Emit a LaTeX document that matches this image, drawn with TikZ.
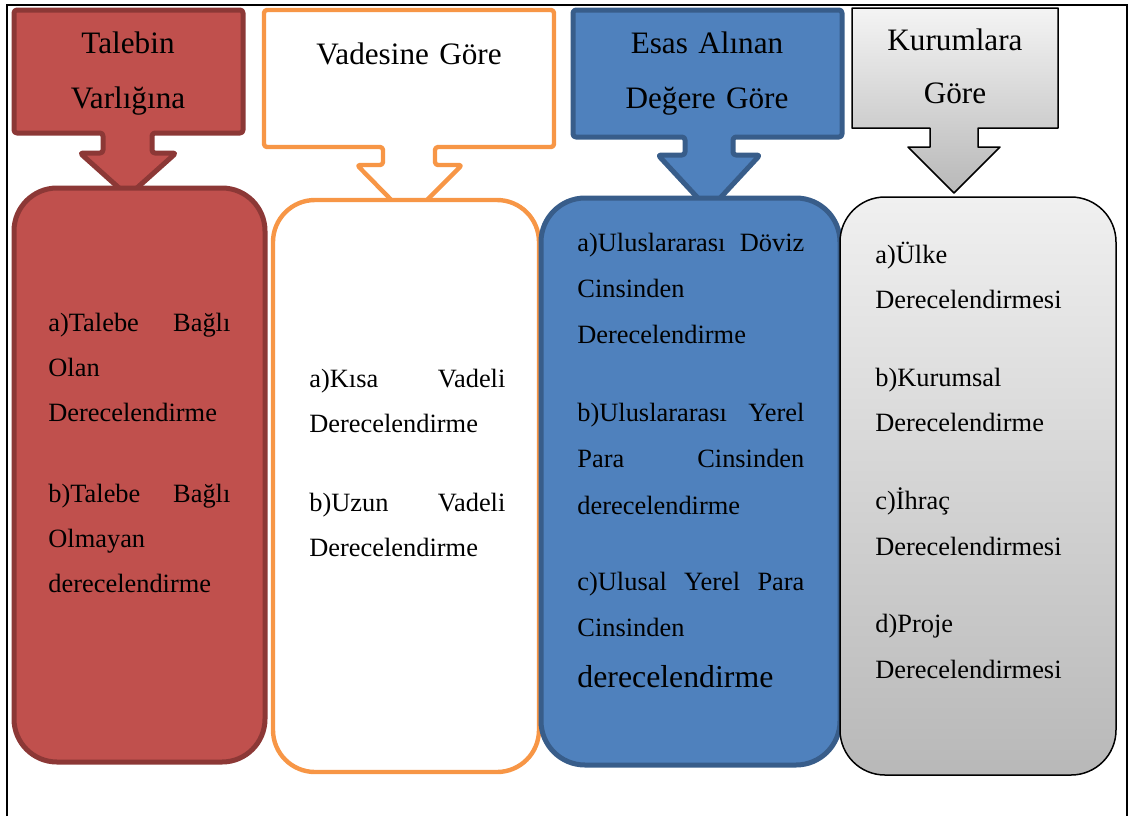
\documentclass[tikz,border=0pt]{standalone}
\usepackage{fontspec}
\setmainfont{Liberation Serif}
\definecolor{redfill}{HTML}{C0504D}
\definecolor{redline}{HTML}{8C3836}
\definecolor{orline}{HTML}{F79646}
\definecolor{bluefill}{HTML}{4F81BD}
\definecolor{blueline}{HTML}{385D8A}
\definecolor{gtop}{HTML}{F4F4F4}
\definecolor{gbot}{HTML}{B8B8B8}
\definecolor{btop}{HTML}{F0F0F0}
\begin{document}
\begin{tikzpicture}[x=0.5pt,y=-0.5pt,
  redshape/.style={fill=redfill, draw=redline, line width=2.5pt, line join=round},
  orshape/.style={fill=white, draw=orline, line width=2.2pt, line join=round},
  blueshape/.style={fill=bluefill, draw=blueline, line width=2.5pt, line join=round},
  grayhead/.style={top color=gtop, bottom color=gbot, draw=black, line width=0.75pt, line join=round},
  graybody/.style={top color=btop, bottom color=gbot, draw=black, line width=0.75pt},
  headtxt/.style={anchor=base, inner sep=0pt, align=center, text width=#1,
    font=\fontsize{15.6pt}{27.5pt}\selectfont},
  bodytxt/.style={anchor=base west, inner sep=0pt, align=left, text width=#1,
    font=\fontsize{13.2pt}{22.5pt}\selectfont}
]
\useasboundingbox (0,0) rectangle (1131,816);
% outer frame
\draw[line width=1pt] (7,816) -- (7,5) -- (1127,5) -- (1127,816);

% header callouts
\draw[redshape, rounded corners=1.5pt] (14,10) -- (243,10) -- (243,133) -- (152,133) -- (152,153) -- (176,153)
  -- (128,196) -- (80,153) -- (103,153) -- (103,133) -- (14,133) -- cycle;
\draw[orshape, rounded corners=1.5pt] (264,10) -- (554,10) -- (554,147) -- (435,147) -- (435,165) -- (462,165)
  -- (409,218) -- (357,165) -- (383,165) -- (383,147) -- (264,147) -- cycle;
\draw[blueshape, rounded corners=1.5pt] (573,10) -- (842,10) -- (842,137) -- (733,137) -- (733,155) -- (760,155)
  -- (709,210) -- (658,155) -- (685,155) -- (685,137) -- (573,137) -- cycle;
\draw[grayhead] (852,8) -- (1058,8) -- (1058,128) -- (978,128) -- (978,147) -- (1000,147)
  -- (954,193) -- (908,147) -- (930,147) -- (930,128) -- (852,128) -- cycle;

% bodies
\draw[redshape, rounded corners=21.5pt] (14,188) rectangle (265,762);
\draw[orshape, rounded corners=21pt] (273,200) rectangle (539,772);
\draw[blueshape, rounded corners=22pt] (541,198) rectangle (840,765);
\draw[graybody, rounded corners=22.5pt] (840,197) rectangle (1116,775);

% header texts
\node[headtxt=110pt] (h1) at (128,53) {Talebin\\Varlığına};
\node[headtxt=140pt] (h2) at (409,64) {Vadesine Göre};
\node[headtxt=130pt] (h3) at (707,53) {Esas Alınan\\Değere Göre};
\node[headtxt=100pt] (h4) at (955,50) {Kurumlara\\[-1pt]Göre};

% body texts
\node[bodytxt=91pt] (t1) at (48,331) {a)Talebe\hfill Bağlı\\Olan\\Derecelendirme\\[18pt]b)Talebe\hfill Bağlı\\Olmayan\\derecelendirme};
\node[bodytxt=98pt] (t2) at (309,387) {a)Kısa\hfill Vadeli\\Derecelendirme\\[17pt]b)Uzun\hfill Vadeli\\Derecelendirme};
\node[bodytxt=113.5pt, font=\fontsize{13.2pt}{23.1pt}\selectfont] (t3) at (577,251) {a)Uluslararası\hfill Döviz\\Cinsinden\\Derecelendirme\\[16pt]b)Uluslararası\hfill Yerel\\Para\hfill Cinsinden\\derecelendirme\\[15pt]c)Ulusal\hfill Yerel\hfill Para\\Cinsinden\\[2.5pt]{\fontsize{15.9pt}{23.1pt}\selectfont derecelendirme}};
\node[bodytxt=110pt, font=\fontsize{13.2pt}{22.8pt}\selectfont] (t4) at (875,263) {a)Ülke\\Derecelendirmesi\\[16pt]b)Kurumsal\\Derecelendirme\\[16pt]c)İhraç\\Derecelendirmesi\\[16pt]d)Proje\\Derecelendirmesi};
\end{tikzpicture}
\end{document}
